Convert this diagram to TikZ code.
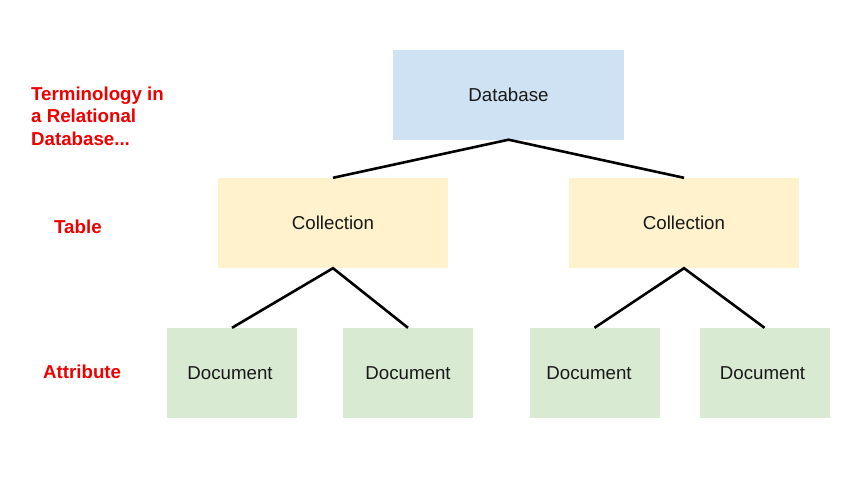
\documentclass[tikz,border=0pt]{standalone}
\usepackage{fontspec}
\setmainfont{Liberation Sans}
\definecolor{dbblue}{HTML}{CFE2F3}
\definecolor{colyel}{HTML}{FFF2CC}
\definecolor{docgrn}{HTML}{D9EAD3}
\definecolor{lblred}{HTML}{EE0000}
\begin{document}
\begin{tikzpicture}[x=1pt,y=-1pt,
  box/.style={inner sep=0pt, font=\fontsize{18.7}{22}\selectfont, text=black!90},
  dbbox/.style={box, fill=dbblue, minimum width=231pt, minimum height=90pt},
  colbox/.style={box, fill=colyel, minimum width=230pt, minimum height=90pt},
  docbox/.style={box, fill=docgrn, minimum width=130pt, minimum height=90pt},
  lbl/.style={anchor=west, inner sep=0pt, text=lblred, font=\fontsize{18.7}{22.5}\selectfont\bfseries, align=left},
  link/.style={line width=2.6pt, black}]
\useasboundingbox (0,0) rectangle (863,483);
\node[dbbox] (db) at (508.5,94.5) {Database};
\node[colbox] (c1) at (333,223) {Collection};
\node[colbox] (c2) at (684,223) {Collection};
\node[docbox] (d1) at (232,373) {\hspace*{-4pt}Document};
\node[docbox] (d2) at (408,373) {Document};
\node[docbox] (d3) at (594.5,373) {\hspace*{-11pt}Document};
\node[docbox] (d4) at (764.5,373) {\hspace*{-4pt}Document};
\draw[link] (c1.north) -- (db.south) -- (c2.north);
\draw[link] (d1.north) -- (c1.south) -- (d2.north);
\draw[link] (d3.north) -- (c2.south) -- (d4.north);
\node[lbl] (t0) at (31,116) {Terminology in\\a Relational\\Database...};
\node[lbl] (t1) at (54,227) {Table};
\node[lbl] (t2) at (43,372) {Attribute};
\end{tikzpicture}
\end{document}
